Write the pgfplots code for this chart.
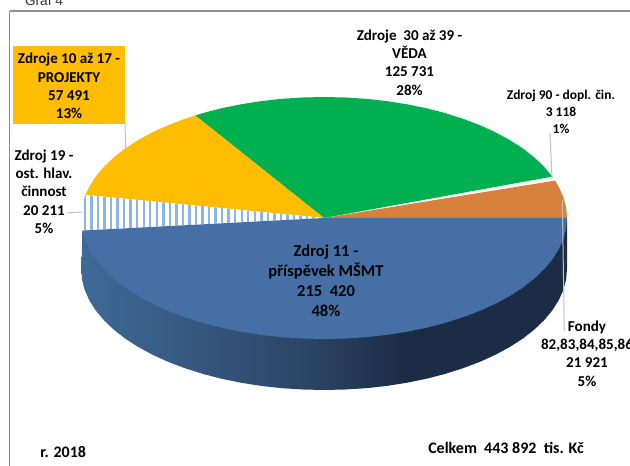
\documentclass[border=0pt]{standalone}
\usepackage{pgfplots}
\pgfplotsset{compat=1.18}
\usepackage{fontspec}
\setmainfont{Carlito}
\newfontfamily\arialf{Liberation Sans}
\usetikzlibrary{patterns.meta}
\definecolor{cblue}{HTML}{4670A5}
\definecolor{cgreen}{HTML}{00AF50}
\definecolor{cyellow}{HTML}{FFBD00}
\definecolor{corange}{HTML}{D8813D}
\definecolor{chatch}{HTML}{8DB4E2}
\definecolor{cframe}{HTML}{909090}
\definecolor{cleader}{HTML}{BFBFBF}
\definecolor{wa}{HTML}{3F6A98}
\definecolor{wb}{HTML}{2B4364}
\definecolor{wc}{HTML}{1B2D45}
\pgfdeclarehorizontalshading{wall}{100bp}{color(0bp)=(wa); color(25bp)=(wa); color(49bp)=(wb); color(58bp)=(wc); color(100bp)=(wc)}
\newcommand{\lab}{\fontsize{11.3pt}{13.75pt}\selectfont\bfseries}
\begin{document}
\begin{tikzpicture}
\path (0,0) rectangle (472.5pt,349.5pt);
\begin{scope}[overlay]
\clip (0,0) rectangle (472.5pt,349.5pt);
\begin{axis}[
  at={(0,0)},anchor=south west,
  scale only axis,width=472.5pt,height=349.5pt,
  xmin=0,xmax=630,ymin=0,ymax=466,y dir=reverse,
  hide axis,clip=false]
% side wall
\addplot[draw=none,shading=wall] coordinates {
(82.3,230.6)(567,218)(567,269)(566.1,279.6)(563.3,290)(558.7,300.3)(552.3,310.4)(544.2,320.1)(534.4,329.5)(523.1,338.4)(510.1,346.8)(495.8,354.6)(480.2,361.7)(463.4,368.1)(445.5,373.8)(426.7,378.7)(407.1,382.7)(386.9,385.9)(366.2,388.2)(345.2,389.5)(324,390)(302.8,389.5)(281.8,388.2)(261.1,385.9)(240.9,382.7)(221.3,378.7)(202.5,373.8)(184.6,368.1)(167.8,361.7)(152.2,354.6)(137.9,346.8)(124.9,338.4)(113.6,329.5)(103.8,320.1)(95.7,310.4)(89.3,300.3)(84.7,290)(82,279.6)(81.5,269)} --cycle;
% orange
\addplot[fill=corange,draw=none] coordinates {
(324,218)(567,218)(566.1,207.4)(563.3,197)(558.7,186.7)(555.1,180.6)} --cycle;
% green
\addplot[fill=cgreen,draw=none] coordinates {
(324,218)(552.3,176.6)(544.2,166.9)(534.4,157.5)(523.1,148.6)(510.1,140.2)(495.8,132.4)(480.2,125.3)(463.4,118.9)(445.5,113.2)(426.7,108.3)(407.1,104.3)(386.9,101.1)(366.2,98.8)(345.2,97.5)(324,97)(302.8,97.5)(281.8,98.8)(261.1,101.1)(240.9,104.3)(221.3,108.3)(202.5,113.2)(195.2,115.4)} --cycle;
% yellow
\addplot[fill=cyellow,draw=none] coordinates {
(324,218)(195.2,115.4)(184.6,118.9)(167.8,125.3)(152.2,132.4)(137.9,140.2)(124.9,148.6)(113.6,157.5)(103.8,166.9)(95.7,176.6)(89.3,186.7)(85.5,194.9)} --cycle;
% hatched
\addplot[fill=white,draw=none] coordinates {
(324,218)(85.5,194.9)(84.7,197)(81.9,207.4)(81,218)(81.9,228.6)(82.3,230.6)} --cycle;
\addplot[draw=none,pattern={Lines[angle=90,distance=4.9pt,line width=1.8pt]},pattern color=chatch] coordinates {
(324,218)(85.5,194.9)(84.7,197)(81.9,207.4)(81,218)(81.9,228.6)(82.3,230.6)} --cycle;
% blue
\addplot[fill=cblue,draw=none] coordinates {
(324,218)(82.3,230.6)(84.7,239)(89.3,249.3)(95.7,259.4)(103.8,269.1)(113.6,278.5)(124.9,287.4)(137.9,295.8)(152.2,303.6)(167.8,310.7)(184.6,317.1)(202.5,322.8)(221.3,327.7)(240.9,331.7)(261.1,334.9)(281.8,337.2)(302.8,338.5)(324,339)(345.2,338.5)(366.2,337.2)(386.9,334.9)(407.1,331.7)(426.7,327.7)(445.5,322.8)(463.4,317.1)(480.2,310.7)(495.8,303.6)(510.1,295.8)(523.1,287.4)(534.4,278.5)(544.2,269.1)(552.3,259.4)(558.7,249.3)(563.3,239)(566.1,228.6)(567,218)} --cycle;
% yellow label box
\addplot[fill=cyellow,draw=none] coordinates {(13,46)(125,46)(125,124)(13,124)} --cycle;
% frame
\addplot[cframe,line width=1pt] coordinates {(9.5,466)(9.5,11)};
\addplot[cframe,line width=1pt] coordinates {(9.5,11)(630,11)};
% leaders
\addplot[cleader,line width=0.75pt] coordinates {(125,124)(125.7,149)};
\addplot[cleader,line width=0.75pt] coordinates {(67,213)(82,212)};
\addplot[cleader,line width=0.75pt] coordinates {(550,133)(552,179)};
\addplot[cleader,line width=0.75pt] coordinates {(562.3,200)(564.3,331)};
% text
\node[font=\arialf\fontsize{10.25pt}{12pt}\selectfont,text=black!80,anchor=base] at (axis cs:44,6) {Graf 4};
\node[font=\lab,align=center] at (axis cs:69,86) {Zdroje 10 až 17 -\\PROJEKTY\\57 491\\13\%};
\node[font=\lab,align=center] at (axis cs:44,191.5) {Zdroj 19 -\\ost. hlav.\\činnost\\20 211\\5\%};
\node[font=\lab,align=center] at (axis cs:409.5,62.5) {Zdroje\ \ 30 až 39 -\\VĚDA\\125 731\\28\%};
\node[font=\fontsize{10.1pt}{12.8pt}\selectfont\bfseries,align=center] at (axis cs:561,112) {Zdroj 90 - dopl. čin.\\3 118\\1\%};
\node[font=\fontsize{12.4pt}{15pt}\selectfont\bfseries,align=center] at (axis cs:326,281) {Zdroj 11 -\\příspěvek MŠMT\\215\ \ 420\\48\%};
\node[font=\lab,align=center] at (axis cs:587,353.5) {Fondy\\82,83,84,85,86\\21 921\\5\%};
\node[font=\fontsize{12pt}{14pt}\selectfont\bfseries,anchor=base west,inner sep=0pt] at (axis cs:40,457) {r. 2018};
\node[font=\fontsize{12pt}{14pt}\selectfont\bfseries,anchor=base west,inner sep=0pt] at (axis cs:428,453) {Celkem\ \ 443 892\ \ tis. Kč};
\end{axis}
\end{scope}
\end{tikzpicture}
\end{document}
